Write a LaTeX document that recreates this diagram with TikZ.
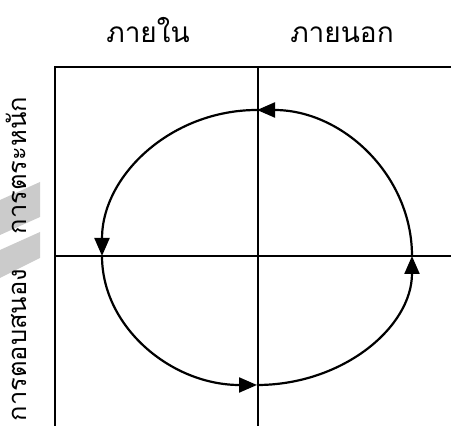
\documentclass[tikz,border=0pt]{standalone}
\usepackage{fontspec}
\newfontfamily\thaifont[Script=Thai]{Loma}
\usetikzlibrary{arrows.meta}
\definecolor{dgBand}{HTML}{CBCBCB}
\tikzset{
  dglabel/.style={font=\thaifont\fontsize{28}{34}\selectfont, inner sep=0pt, anchor=base},
  dgside/.style={dglabel, font=\thaifont\fontsize{25.5}{30}\selectfont, rotate=90},
  dgaxis/.style={line width=1.7pt, black},
  dgcycle/.style={line width=2.2pt, black, -{Triangle[length=18pt,width=15pt]}},
  dgband/.style={fill=dgBand, draw=none}
}
\begin{document}
\begin{tikzpicture}[x=1pt,y=1pt]
  \useasboundingbox (0,0) rectangle (451,426);
  % grey bands behind the side labels
  \fill[dgband] (0,226) -- (40,244) -- (40,209) -- (0,191) -- cycle;
  \fill[dgband] (0,176) -- (40,194) -- (40,168) -- (0,148) -- cycle;

  \node[dglabel] (inner) at (148,383) {ภายใน};
  \node[dglabel] (outer) at (342,383) {ภายนอก};
  \node[dgside] (aware) at (27,260.5) {การตระหนัก};
  \node[dgside] (resp) at (27,81) {การตอบสนอง};

  % frame and cross
  \coordinate (tl) at (55,359);
  \coordinate (tr) at (451,359);
  \coordinate (bl) at (55,0);
  \coordinate (tm) at (258,359);
  \coordinate (bm) at (258,0);
  \coordinate (ml) at (55,170);
  \coordinate (mr) at (451,170);
  \draw[dgaxis] (bl) -- (tl) -- (tr);
  \draw[dgaxis] (tm) -- (bm);
  \draw[dgaxis, line width=1.3pt] (ml) -- (mr);

  % cycle
  \coordinate (east) at (412,170);
  \coordinate (north) at (257,316);
  \coordinate (west) at (102,170);
  \coordinate (south) at (257,41);
  \foreach \s/\a/\ry in {east/0/146, north/90/146, west/180/129, south/270/129}{
    \draw[dgcycle] (\s) arc[start angle=\a, delta angle=90, x radius=155, y radius=\ry];
  }
\end{tikzpicture}
\end{document}
